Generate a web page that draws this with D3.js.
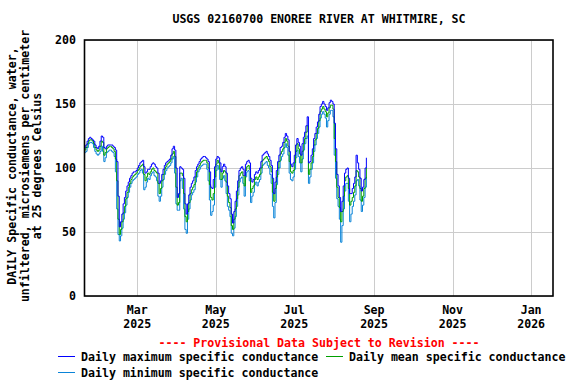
<!DOCTYPE html>
<html>
<head>
<meta charset="utf-8">
<script src="https://cdn.jsdelivr.net/npm/d3@7"></script>
<style>
  html, body { margin: 0; padding: 0; background: #fff; }
  svg text { font-family: "DejaVu Sans Mono", "Liberation Mono", monospace; font-weight: bold; font-size: 11.6px; }
</style>
</head>
<body>
<svg id="chart" width="576" height="384"></svg>
<script>
// daily values, one per day starting 2025-01-19
const startDate = "2025-01-19";

const dailyMax = [116,118,121,123,124,123,122,121,118,116,115,117,121,125,124,116,115,117,118,118,118,118,117,116,114,105,78,54,58,64,72,77,82,86,89,92,94,96,97,97,98,100,102,104,105,106,
  101,96,97,99,99,101,103,104,103,101,100,96,88,90,95,99,102,104,105,106,107,110,115,117,114,100,77,80,101,100,99,92,72,64,72,79,85,88,90,93,98,101,103,105,107,
  108,109,109,108,107,105,97,85,84,91,101,107,109,108,104,97,101,103,101,96,86,80,76,64,57,66,74,82,90,98,100,101,99,94,103,105,106,104,92,89,91,95,97,96,98,100,105,110,111,112,113,111,109,106,102,92,80,89,98,105,110,116,117,120,124,127,125,122,113,103,101,104,110,118,123,120,117,110,119,124,128,133,140,104,105,110,115,123,127,132,136,142,148,150,152,150,148,145,147,151,153,152,150,135,115,95,86,77,66,74,86,96,99,100,92,80,80,84,88,93,110,104,99,92,82,85,91,100,108];

const dailyMean = [114,116,119,121,122,122,121,119,116,114,113,114,117,121,120,110,112,115,116,117,117,116,115,113,107,90,60,48,52,58,65,70,76,81,85,88,91,93,94,95,96,98,99,101,102,103,
  95,90,93,96,95,97,99,100,98,97,96,88,80,84,90,95,99,101,103,104,105,107,111,113,109,85,71,73,96,96,94,80,62,58,66,73,80,83,85,87,93,97,100,102,104,
  105,106,106,106,104,100,87,77,75,80,93,103,106,104,99,91,96,98,97,89,78,73,69,55,52,60,68,76,85,94,96,97,94,86,98,101,102,99,81,84,86,91,93,91,93,95,100,106,107,108,109,107,105,101,97,81,74,84,93,100,105,111,113,115,120,123,121,117,105,97,96,98,104,113,119,115,111,104,113,119,123,128,133,95,99,104,109,118,122,127,131,137,144,146,148,146,144,140,143,147,149,149,146,123,105,85,77,69,58,66,78,90,93,94,84,71,74,77,81,86,98,97,93,84,74,78,84,92,100];

const dailyMin = [112,113,116,119,120,120,119,116,113,111,110,111,113,117,113,105,108,112,113,114,114,113,112,109,97,68,48,43,47,53,60,65,71,77,81,85,88,90,91,92,93,95,96,98,99,96,
  83,85,89,92,91,94,96,97,94,93,90,78,74,78,85,91,95,98,100,101,102,104,107,109,96,72,67,67,90,92,84,68,52,49,60,68,75,79,81,83,89,93,97,99,101,
  102,103,103,103,99,90,75,63,66,71,85,98,102,99,91,85,92,94,90,80,70,67,62,49,47,53,62,70,79,89,92,93,88,78,93,97,98,90,73,78,81,87,89,86,89,91,96,102,103,104,105,102,100,95,88,70,61,73,87,95,100,106,109,111,116,119,116,110,96,91,90,93,99,108,114,109,104,97,107,114,119,123,125,88,93,99,104,113,118,123,127,132,139,142,144,142,139,132,137,142,145,145,140,110,92,76,70,60,42,55,68,82,88,88,74,58,64,70,74,79,90,91,86,75,66,71,77,85,93];

const yTicks = [0, 50, 100, 150, 200];
const xTickDates = ["2025-03-01", "2025-05-01", "2025-07-01", "2025-09-01", "2025-11-01", "2026-01-01"];
const xDomain = ["2025-01-19", "2026-01-18"];

const seriesNames = ["Daily maximum specific conductance", "Daily mean specific conductance", "Daily minimum specific conductance"];
const seriesColors = ["#0000ff", "#00a000", "#0a84d8"];

const titleText = "USGS 02160700 ENOREE RIVER AT WHITMIRE, SC";
const yLabelLines = ["DAILY Specific conductance, water,", "unfiltered, microsiemens per centimeter", "at 25 degrees Celsius"];
const provisional = "---- Provisional Data Subject to Revision ----";

const parse = d3.utcParse("%Y-%m-%d");
const plot = { left: 84.5, right: 553, top: 40, bottom: 296 };

const svg = d3.select("#chart");

const x = d3.scaleUtc()
  .domain(xDomain.map(parse))
  .range([plot.left, plot.right]);

const y = d3.scaleLinear()
  .domain([0, 200])
  .range([plot.bottom, plot.top]);

const start = parse(startDate);
const dayDate = i => d3.utcDay.offset(start, i);

// grid
svg.append("g")
  .selectAll("line.h")
  .data(yTicks)
  .join("line")
  .attr("x1", plot.left).attr("x2", plot.right)
  .attr("y1", d => Math.round(y(d)) + 0.5).attr("y2", d => Math.round(y(d)) + 0.5)
  .attr("stroke", "#cccccc").attr("stroke-width", 1);

svg.append("g")
  .selectAll("line.v")
  .data(xTickDates.map(parse))
  .join("line")
  .attr("x1", d => Math.round(x(d)) + 0.5).attr("x2", d => Math.round(x(d)) + 0.5)
  .attr("y1", plot.top).attr("y2", plot.bottom)
  .attr("stroke", "#cccccc").attr("stroke-width", 1);

// series lines (min first, then mean, then max on top)
const line = d3.line()
  .x((d, i) => x(dayDate(i)))
  .y(d => y(d))
  .curve(d3.curveStepAfter);

[[dailyMin, 2], [dailyMean, 1], [dailyMax, 0]].forEach(([vals, k]) => {
  svg.append("path")
    .datum(vals)
    .attr("fill", "none")
    .attr("stroke", seriesColors[k])
    .attr("stroke-width", 1)
    .attr("d", line);
});

// frame
svg.append("rect")
  .attr("x", plot.left).attr("y", plot.top)
  .attr("width", plot.right - plot.left).attr("height", plot.bottom - plot.top)
  .attr("fill", "none").attr("stroke", "#000").attr("stroke-width", 1.6);

// y tick labels
svg.append("g")
  .selectAll("text")
  .data(yTicks)
  .join("text")
  .attr("x", 76)
  .attr("y", d => y(d) + 4)
  .attr("text-anchor", "end")
  .text(d => d);

// x tick labels
const xl = svg.append("g")
  .selectAll("g")
  .data(xTickDates.map(parse))
  .join("g")
  .attr("transform", d => `translate(${x(d)},0)`);
xl.append("text").attr("y", 314).attr("text-anchor", "middle").text(d3.utcFormat("%b"));
xl.append("text").attr("y", 328).attr("text-anchor", "middle").text(d3.utcFormat("%Y"));

// title
svg.append("text")
  .attr("x", 319).attr("y", 23)
  .attr("text-anchor", "middle")
  .text(titleText);

// y axis label
svg.append("g")
  .attr("transform", "translate(0,166) rotate(-90)")
  .selectAll("text")
  .data(yLabelLines)
  .join("text")
  .attr("x", 0)
  .attr("y", (d, i) => 16 + i * 12.5)
  .attr("text-anchor", "middle")
  .text(d => d);

// provisional note
svg.append("text")
  .attr("x", 319).attr("y", 347)
  .attr("text-anchor", "middle")
  .attr("fill", "#ff0000")
  .text(provisional);

// legend
const legendPos = [[58, 361], [326, 361], [58, 377]];
const lg = svg.append("g")
  .selectAll("g")
  .data(seriesNames)
  .join("g")
  .attr("transform", (d, i) => `translate(${legendPos[i][0]},${legendPos[i][1]})`);
lg.append("line")
  .attr("x1", 0).attr("x2", 17).attr("y1", -4.5).attr("y2", -4.5)
  .attr("stroke", (d, i) => seriesColors[i]).attr("stroke-width", 1);
lg.append("text").attr("x", 23).attr("y", 0).text(d => d);
</script>
</body>
</html>
